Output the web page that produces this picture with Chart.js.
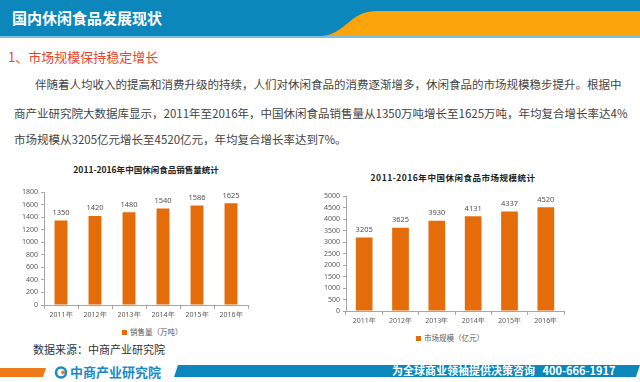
<!DOCTYPE html>
<html>
<head>
<meta charset="utf-8">
<script src="https://cdn.jsdelivr.net/npm/chart.js@4"></script>
<style>
  body { margin: 0; width: 640px; height: 382px; position: relative; overflow: hidden; background: #fff;
         font-family: "Noto Sans CJK SC", "Noto Sans", sans-serif; }
  .abs { position: absolute; white-space: nowrap; }
  #header { left: 0; top: 0; width: 640px; height: 36px; background: #0b87bb; border-bottom: 2px solid #7cc0df; }
  #header h1 { position: absolute; left: 12px; top: 8px; margin: 0; font-size: 15px; line-height: 20px; color: #fff; font-weight: bold; }
  .sub { left: 8px; top: 48px; font-size: 13px; line-height: 18px; color: #e8452f; }
  .para { font-size: 11.5px; line-height: 16px; color: #444; }
  .ctitle { font-size: 8.5px; line-height: 12px; font-weight: bold; color: #222; transform: translateX(-50%); }
  .legend { font-size: 7.5px; line-height: 10px; color: #595959; }
  .legend i { display: inline-block; width: 5px; height: 5px; background: #e46c0a; margin-right: 3px; vertical-align: 0px; }
  .src { left: 33px; top: 341px; font-size: 11px; line-height: 16px; color: #333; }
</style>
</head>
<body>
<div id="header" class="abs">
  <svg width="640" height="36" style="position:absolute;left:0;top:0">
    <path d="M322,36 C345,34 350,12 375,11 L640,11 L640,36 Z" fill="#fba40b"/>
  </svg>
  <h1>国内休闲食品发展现状</h1>
</div>
<div class="abs sub">1、市场规模保持稳定增长</div>
<div class="abs para" style="left:35px;top:76px">伴随着人均收入的提高和消费升级的持续，人们对休闲食品的消费逐渐增多，休闲食品的市场规模稳步提升。根据中</div>
<div class="abs para" style="left:14px;top:105px">商产业研究院大数据库显示，2011年至2016年，中国休闲食品销售量从1350万吨增长至1625万吨，年均复合增长率达4%</div>
<div class="abs para" style="left:14px;top:131px">市场规模从3205亿元增长至4520亿元，年均复合增长率达到7%。</div>

<div class="abs ctitle" style="left:146px;top:163px">2011-2016年中国休闲食品销售量统计</div>
<canvas id="salesChart" class="abs" width="256" height="136" style="left:0;top:185px"></canvas>
<div class="abs legend" style="left:122px;top:327px"><i></i>销售量（万吨）</div>

<div class="abs ctitle" style="left:453px;top:171px;letter-spacing:0.5px">2011-2016年中国休闲食品市场规模统计</div>
<canvas id="marketChart" class="abs" width="272" height="138" style="left:300px;top:189px"></canvas>
<div class="abs legend" style="left:416px;top:333px"><i></i>市场规模（亿元）</div>

<div class="abs src">数据来源：中商产业研究院</div>

<svg class="abs" width="640" height="20" style="left:0;top:362px">
  <path d="M0,6 L46,6 L43,15 L0,15 Z" fill="#ee7a1c"/>
  <circle cx="61" cy="10.5" r="5" fill="none" stroke="#1a8ac6" stroke-width="2.5"/>
  <circle cx="63" cy="10.5" r="2" fill="#ee7a1c"/>
  <path d="M178,3 L640,3 L636,15 L174,15 Z" fill="#0b87bb"/>
</svg>
<div class="abs" style="left:70px;top:363px;font-size:13px;line-height:18px;color:#1a8ac6;font-weight:bold">中商产业研究院</div>
<div class="abs" style="left:392px;top:363px;font-size:11px;line-height:14px;color:#fff;font-weight:bold">为全球商业领袖提供决策咨询 &nbsp; 400-666-1917</div>

<script>
var years = ["2011年", "2012年", "2013年", "2014年", "2015年", "2016年"];
var salesVolume = [1350, 1420, 1480, 1540, 1586, 1625];   // 万吨
var marketSize = [3205, 3625, 3930, 4131, 4337, 4520];    // 亿元
var barColor = "#e46c0a";

// value labels above the bars
var valueLabels = {
    id: "valueLabels",
    afterDatasetsDraw: function (chart) {
        var ctx = chart.ctx;
        var meta = chart.getDatasetMeta(0);
        ctx.save();
        ctx.font = "7.5px 'Noto Sans', sans-serif";
        ctx.fillStyle = "#505050";
        ctx.textAlign = "center";
        ctx.textBaseline = "bottom";
        meta.data.forEach(function (bar, i) {
            ctx.fillText(chart.data.datasets[0].data[i], bar.x, bar.y - 4);
        });
        ctx.restore();
    }
};

function makeChart(id, label, values, maxY, step, yWidth, barPct) {
    return new Chart(document.getElementById(id), {
        type: "bar",
        data: {
            labels: years,
            datasets: [{
                label: label,
                data: values,
                backgroundColor: barColor,
                categoryPercentage: 1,
                barPercentage: barPct
            }]
        },
        options: {
            responsive: false,
            animation: false,
            layout: { padding: { left: 4, right: 8, top: 4, bottom: 0 } },
            plugins: { legend: { display: false }, tooltip: { enabled: false } },
            scales: {
                x: {
                    grid: { display: true, drawOnChartArea: false, offset: true, tickLength: 4, color: "#a6a6a6" },
                    border: { color: "#a6a6a6" },
                    ticks: { color: "#595959", font: { size: 7 }, padding: 2, maxRotation: 0 },
                    afterFit: function (scale) { scale.height = 16; }
                },
                y: {
                    min: 0,
                    max: maxY,
                    grid: { display: true, drawOnChartArea: false, tickLength: 3, color: "#a6a6a6" },
                    border: { color: "#a6a6a6" },
                    ticks: {
                        stepSize: step, color: "#595959", font: { size: 7 }, padding: 3,
                        callback: function (v) { return String(v); }
                    },
                    afterFit: function (scale) { scale.width = yWidth; }
                }
            }
        },
        plugins: [valueLabels]
    });
}

Chart.defaults.font.family = "'Noto Sans', sans-serif";
makeChart("salesChart", "销售量（万吨）", salesVolume, 1800, 200, 40, 0.38);
makeChart("marketChart", "市场规模（亿元）", marketSize, 5000, 500, 42, 0.46);
</script>
</body>
</html>
